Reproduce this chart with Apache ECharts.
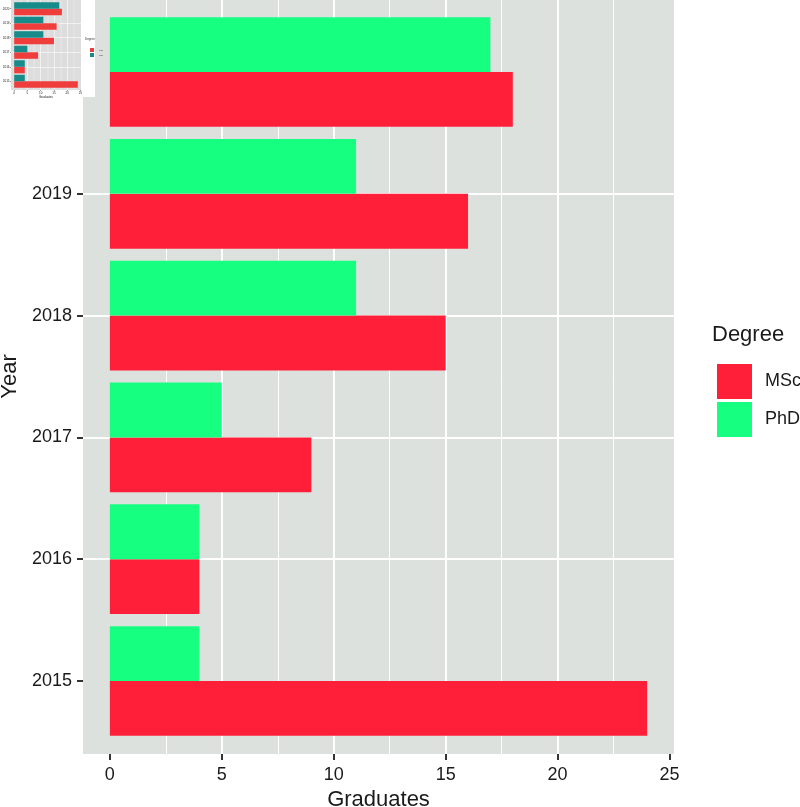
<!DOCTYPE html>
<html>
<head>
<meta charset="utf-8">
<script src="https://cdn.jsdelivr.net/npm/echarts@6/dist/echarts.min.js"></script>
<style>
  html, body { margin: 0; padding: 0; background: #fff; }
  #chart { width: 800px; height: 807px; }
</style>
</head>
<body>
<div id="chart"></div>
<script>
const years = ["2015", "2016", "2017", "2018", "2019", "2020"];
const msc = [24, 4, 9, 15, 16, 18];
const phd = [4, 4, 5, 11, 11, 17];
const xTicks = [0, 5, 10, 15, 20, 25];
const yTicks = [0, 1, 2, 3, 4, 5];

const FONT = "Liberation Sans";
const RED = "#ff1f38";
const GREEN = "#17ff80";
const INSET_RED = "#ef3d3b";
const INSET_TEAL = "#178a8a";

// dodged horizontal bar: y is the category index, offset moves it up or down
const barItem = (offset) => (params, api) => {
  const y = api.value(1) + offset;
  const a = api.coord([0, y]);
  const b = api.coord([api.value(0), y]);
  const h = api.size([0, 0.45])[1];
  return {
    type: "rect",
    shape: { x: a[0], y: a[1] - h / 2, width: b[0] - a[0], height: h },
    style: { fill: api.visual("color") }
  };
};

const pairs = (arr) => arr.map((v, i) => [v, i]);

const chart = echarts.init(document.getElementById("chart"));

const xAxisFor = (gridIndex, big) => ({
  type: "value",
  gridIndex,
  z: big ? 0 : 102,
  min: -1.2,
  max: 25.2,
  splitNumber: 5,
  name: "Graduates",
  nameLocation: "middle",
  nameGap: big ? 31 : 4,
  nameTextStyle: { fontFamily: FONT, fontSize: big ? 22 : 3, color: "#1a1a1a" },
  axisLine: { show: false, onZero: false },
  axisTick: {
    show: true,
    customValues: xTicks,
    length: big ? 6 : 1,
    lineStyle: { color: "#333", width: big ? 2 : 0.5 }
  },
  axisLabel: {
    customValues: xTicks,
    formatter: (v) => (v % 5 === 0 ? String(v) : ""),
    fontFamily: FONT,
    fontSize: big ? 18 : 3,
    color: "#1a1a1a",
    margin: big ? 12 : 1.5
  },
  splitLine: {
    show: true,
    showMinLine: false,
    showMaxLine: false,
    lineStyle: { color: "#fff", width: big ? 2 : 0.6 }
  },
  minorTick: { show: false, splitNumber: 2 },
  minorSplitLine: { show: true, lineStyle: { color: "#fff", width: big ? 1 : 0.3 } }
});

const yAxisFor = (gridIndex, big) => ({
  type: "value",
  gridIndex,
  z: big ? 0 : 102,
  min: -0.6,
  max: 5.6,
  splitNumber: 6,
  name: "Year",
  nameLocation: "middle",
  nameGap: big ? 60 : 8,
  nameTextStyle: { fontFamily: FONT, fontSize: big ? 22 : 3, color: "#1a1a1a" },
  axisLine: { show: false, onZero: false },
  axisTick: {
    show: true,
    customValues: yTicks,
    length: big ? 6 : 1,
    lineStyle: { color: "#333", width: big ? 2 : 0.5 }
  },
  axisLabel: {
    customValues: yTicks,
    formatter: (v) => (Number.isInteger(v) && years[v] ? years[v] : ""),
    fontFamily: FONT,
    fontSize: big ? 18 : 3,
    color: "#1a1a1a",
    margin: big ? 11 : 1.5
  },
  splitLine: {
    show: true,
    showMinLine: false,
    showMaxLine: false,
    lineStyle: { color: "#fff", width: big ? 2 : 0.6 }
  }
});

chart.setOption({
  animation: false,
  backgroundColor: "#fff",
  textStyle: { fontFamily: FONT },
  grid: [
    {
      left: 83, right: 126, top: -1, bottom: 53,
      outerBoundsMode: "none", containLabel: false,
      show: true, borderWidth: 0, backgroundColor: "#dce1de"
    },
    {
      left: 11, top: 0, width: 70, height: 90, z: 101,
      outerBoundsMode: "none", containLabel: false,
      show: true, borderWidth: 0, backgroundColor: "#dddddd"
    }
  ],
  xAxis: [xAxisFor(0, true), xAxisFor(1, false)],
  yAxis: [yAxisFor(0, true), yAxisFor(1, false)],
  legend: [
    {
      data: ["MSc", "PhD"],
      orient: "vertical",
      left: 712,
      top: 359,
      icon: "rect",
      itemWidth: 35,
      itemHeight: 35,
      itemGap: 3,
      selectedMode: false,
      textStyle: { fontFamily: FONT, fontSize: 18, color: "#1a1a1a", padding: [0, 0, 0, 8] }
    },
    {
      data: ["inset MSc", "inset PhD"],
      orient: "vertical",
      left: 85,
      top: 43,
      z: 103,
      icon: "rect",
      itemWidth: 4,
      itemHeight: 4,
      itemGap: 1,
      selectedMode: false,
      formatter: (n) => n.replace("inset ", ""),
      textStyle: { fontFamily: FONT, fontSize: 2, color: "#333" }
    }
  ],
  graphic: [
    {
      type: "text",
      left: 712,
      top: 324,
      style: { text: "Degree", font: "22px " + FONT, fill: "#1a1a1a" }
    },
    {
      type: "rect",
      z: 100,
      shape: { x: 0, y: 0, width: 95, height: 97 },
      style: { fill: "#fff" }
    },
    {
      type: "text",
      z: 103,
      left: 85,
      top: 38,
      style: { text: "Degree", font: "3px " + FONT, fill: "#333" }
    }
  ],
  series: [
    {
      name: "MSc",
      type: "custom",
      xAxisIndex: 0,
      yAxisIndex: 0,
      itemStyle: { color: RED },
      encode: { x: 0, y: 1 },
      data: pairs(msc),
      renderItem: barItem(-0.225)
    },
    {
      name: "PhD",
      type: "custom",
      xAxisIndex: 0,
      yAxisIndex: 0,
      itemStyle: { color: GREEN },
      encode: { x: 0, y: 1 },
      data: pairs(phd),
      renderItem: barItem(0.225)
    },
    {
      name: "inset MSc",
      type: "custom",
      xAxisIndex: 1,
      yAxisIndex: 1,
      z: 103,
      itemStyle: { color: INSET_RED },
      encode: { x: 0, y: 1 },
      data: pairs(msc),
      renderItem: barItem(-0.225)
    },
    {
      name: "inset PhD",
      type: "custom",
      xAxisIndex: 1,
      yAxisIndex: 1,
      z: 103,
      itemStyle: { color: INSET_TEAL },
      encode: { x: 0, y: 1 },
      data: pairs(phd),
      renderItem: barItem(0.225)
    }
  ]
});
</script>
</body>
</html>
